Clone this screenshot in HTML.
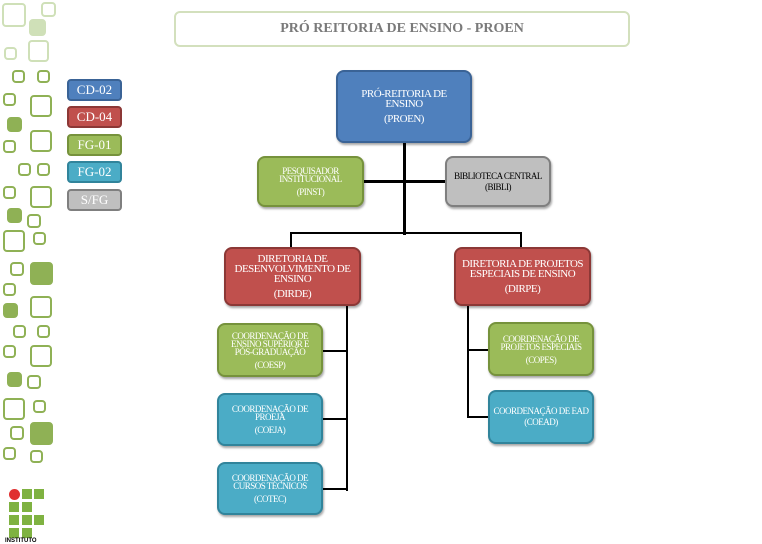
<!DOCTYPE html>
<html><head><meta charset="utf-8"><style>
*{margin:0;padding:0;box-sizing:border-box}
body{width:762px;height:544px;background:#fff;position:relative;overflow:hidden;font-family:"Liberation Serif",serif}
.s{position:absolute;border:2.5px solid #8fb155;border-radius:4px}
.l{border-color:#cfe0b8}
.f{background:#8fb155}
.fl{background:#cfe0b8;border-color:#cfe0b8}
.b{position:absolute;border-radius:8px;color:#fff;text-align:center;display:flex;flex-direction:column;justify-content:center;align-items:center;letter-spacing:-0.5px;box-shadow:1px 2px 2px rgba(0,0,0,.35)}
.blue{background:#4f80bd;border:2px solid #3a6396}
.red{background:#c0504d;border:2px solid #8c3836}
.grn{background:#9bbb59;border:2px solid #76923c}
.cy{background:#4bacc6;border:2px solid #31849b}
.gr{background:#bfbfbf;border:2px solid #7f7f7f;color:#000}
.ln{position:absolute;background:#000}
.lg{position:absolute;left:67px;width:55px;height:22px;border-radius:4px;font-size:13px;display:flex;align-items:center;justify-content:center;color:#fff}
.b p{margin-top:5px}
</style></head><body>
<div class="s l" style="left:2px;top:3px;width:24px;height:24px"></div>
<div class="s l" style="left:41px;top:2px;width:15px;height:15px"></div>
<div class="s fl" style="left:29px;top:19px;width:17px;height:17px"></div>
<div class="s l" style="left:4px;top:47px;width:13px;height:13px"></div>
<div class="s l" style="left:28px;top:40px;width:21px;height:22px"></div>
<div class="s" style="left:12px;top:70px;width:13px;height:13px"></div>
<div class="s" style="left:37px;top:70px;width:13px;height:13px"></div>
<div class="s" style="left:3px;top:93px;width:13px;height:13px"></div>
<div class="s" style="left:30px;top:95px;width:22px;height:22px"></div>
<div class="s f" style="left:7px;top:117px;width:15px;height:15px"></div>
<div class="s" style="left:3px;top:140px;width:13px;height:13px"></div>
<div class="s" style="left:30px;top:130px;width:22px;height:22px"></div>
<div class="s" style="left:18px;top:163px;width:13px;height:13px"></div>
<div class="s" style="left:37px;top:163px;width:13px;height:13px"></div>
<div class="s" style="left:3px;top:186px;width:13px;height:13px"></div>
<div class="s" style="left:30px;top:186px;width:22px;height:22px"></div>
<div class="s f" style="left:7px;top:208px;width:15px;height:15px"></div>
<div class="s" style="left:27px;top:214px;width:14px;height:14px"></div>
<div class="s" style="left:3px;top:230px;width:22px;height:22px"></div>
<div class="s" style="left:33px;top:232px;width:13px;height:13px"></div>
<div class="s" style="left:10px;top:262px;width:14px;height:14px"></div>
<div class="s f" style="left:30px;top:262px;width:23px;height:23px"></div>
<div class="s" style="left:3px;top:283px;width:13px;height:13px"></div>
<div class="s" style="left:30px;top:296px;width:22px;height:22px"></div>
<div class="s f" style="left:3px;top:303px;width:15px;height:15px"></div>
<div class="s" style="left:13px;top:325px;width:13px;height:13px"></div>
<div class="s" style="left:37px;top:325px;width:13px;height:13px"></div>
<div class="s" style="left:3px;top:345px;width:13px;height:13px"></div>
<div class="s" style="left:30px;top:345px;width:22px;height:22px"></div>
<div class="s f" style="left:7px;top:372px;width:15px;height:15px"></div>
<div class="s" style="left:27px;top:375px;width:14px;height:14px"></div>
<div class="s" style="left:3px;top:398px;width:22px;height:22px"></div>
<div class="s" style="left:33px;top:400px;width:13px;height:13px"></div>
<div class="s" style="left:10px;top:426px;width:14px;height:14px"></div>
<div class="s f" style="left:30px;top:422px;width:23px;height:23px"></div>
<div class="s" style="left:3px;top:447px;width:13px;height:13px"></div>
<div class="s" style="left:30px;top:450px;width:13px;height:13px"></div>
<div style="position:absolute;left:9px;top:489px;width:11px;height:11px;border-radius:50%;background:#e03030"></div>
<div style="position:absolute;left:22px;top:489px;width:10px;height:10px;background:#7fb241"></div>
<div style="position:absolute;left:34px;top:489px;width:10px;height:10px;background:#7fb241"></div>
<div style="position:absolute;left:9px;top:502px;width:10px;height:10px;background:#7fb241"></div>
<div style="position:absolute;left:22px;top:502px;width:10px;height:10px;background:#7fb241"></div>
<div style="position:absolute;left:9px;top:515px;width:10px;height:10px;background:#7fb241"></div>
<div style="position:absolute;left:22px;top:515px;width:10px;height:10px;background:#7fb241"></div>
<div style="position:absolute;left:34px;top:515px;width:10px;height:10px;background:#7fb241"></div>
<div style="position:absolute;left:9px;top:528px;width:10px;height:10px;background:#7fb241"></div>
<div style="position:absolute;left:22px;top:528px;width:10px;height:10px;background:#7fb241"></div>
<div style="position:absolute;left:5px;top:538px;font:bold 6px 'Liberation Sans',sans-serif">INSTITUTO</div>
<div class="lg blue" style="top:79px">CD-02</div>
<div class="lg red" style="top:106px">CD-04</div>
<div class="lg grn" style="top:134px">FG-01</div>
<div class="lg cy" style="top:161px">FG-02</div>
<div class="lg gr" style="top:189px">S/FG</div>
<div style="position:absolute;left:174px;top:11px;width:456px;height:36px;border:2px solid #d3e0bd;border-radius:6px;display:flex;align-items:center;justify-content:center;font-weight:bold;font-size:14px;color:#7a7a7a">PRÓ REITORIA DE ENSINO - PROEN</div>
<div class="ln" style="left:403px;top:143px;width:3px;height:92px"></div>
<div class="ln" style="left:364px;top:180px;width:81px;height:3px"></div>
<div class="ln" style="left:290px;top:232px;width:232px;height:2px"></div>
<div class="ln" style="left:290px;top:232px;width:2px;height:16px"></div>
<div class="ln" style="left:520px;top:232px;width:2px;height:16px"></div>
<div class="ln" style="left:346px;top:306px;width:2px;height:185px"></div>
<div class="ln" style="left:323px;top:350px;width:24px;height:2px"></div>
<div class="ln" style="left:323px;top:418px;width:24px;height:2px"></div>
<div class="ln" style="left:323px;top:488px;width:24px;height:2px"></div>
<div class="ln" style="left:467px;top:306px;width:2px;height:112px"></div>
<div class="ln" style="left:467px;top:349px;width:21px;height:2px"></div>
<div class="ln" style="left:467px;top:416px;width:21px;height:2px"></div>
<div class="b blue" style="left:336px;top:70px;width:136px;height:73px;font-size:11px;line-height:10px">PRÓ-REITORIA DE<br>ENSINO<p>(PROEN)</p></div>
<div class="b grn" style="left:257px;top:156px;width:107px;height:51px;font-size:9px;line-height:8px">PESQUISADOR<br>INSTITUCIONAL<p>(PINST)</p></div>
<div class="b gr" style="left:445px;top:156px;width:106px;height:51px;font-size:9px;line-height:11px">BIBLIOTECA CENTRAL<br>(BIBLI)</div>
<div class="b red" style="left:224px;top:247px;width:137px;height:59px;font-size:11px;line-height:10px">DIRETORIA DE<br>DESENVOLVIMENTO DE<br>ENSINO<p>(DIRDE)</p></div>
<div class="b red" style="left:454px;top:247px;width:137px;height:59px;font-size:11px;line-height:10px">DIRETORIA DE PROJETOS<br>ESPECIAIS DE ENSINO<p>(DIRPE)</p></div>
<div class="b grn" style="left:217px;top:323px;width:106px;height:54px;font-size:9px;line-height:8px">COORDENAÇÃO DE<br>ENSINO SUPERIOR E<br>PÓS-GRADUAÇÃO<p>(COESP)</p></div>
<div class="b cy" style="left:217px;top:393px;width:106px;height:53px;font-size:9px;line-height:8px">COORDENAÇÃO DE<br>PROEJA<p>(COEJA)</p></div>
<div class="b cy" style="left:217px;top:462px;width:106px;height:53px;font-size:9px;line-height:8px">COORDENAÇÃO DE<br>CURSOS TÉCNICOS<p>(COTEC)</p></div>
<div class="b grn" style="left:488px;top:322px;width:106px;height:54px;font-size:9px;line-height:8px">COORDENAÇÃO DE<br>PROJETOS ESPECIAIS<p>(COPES)</p></div>
<div class="b cy" style="left:488px;top:390px;width:106px;height:54px;font-size:9px;line-height:11px">COORDENAÇÃO DE EAD<br>(COEAD)</div>
</body></html>
